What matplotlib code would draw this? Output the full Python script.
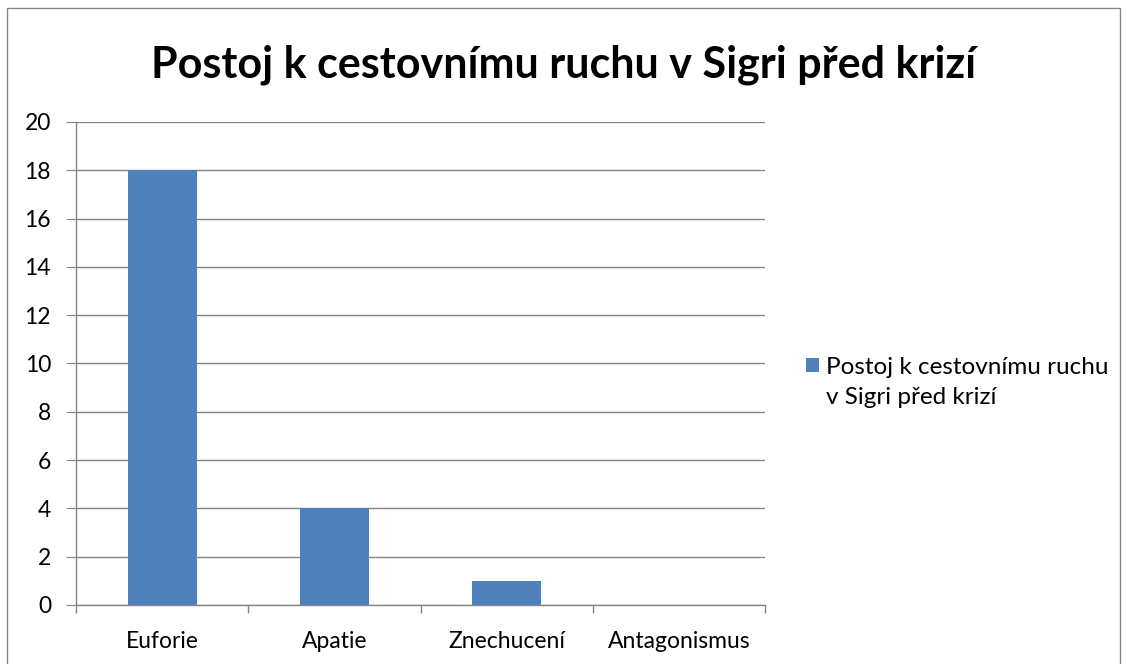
import matplotlib.pyplot as plt
from matplotlib.patches import Rectangle

# data
categories = ['Euforie', 'Apatie', 'Znechucení', 'Antagonismus']
values = [18, 4, 1, 0]
series_name = 'Postoj k cestovnímu ruchu v Sigri před krizí'
legend_line1 = 'Postoj k cestovnímu ruchu'
legend_line2 = 'v Sigri před krizí'

plt.rcParams['font.family'] = ['Lato', 'DejaVu Sans']

fig = plt.figure(figsize=(11.28, 6.64), dpi=100)
ax = fig.add_axes([0.0674, 0.0889, 0.6108, 0.7274])

bars = ax.bar(range(len(categories)), values, width=0.4, color='#4F81BD', zorder=3)

ax.set_xlim(-0.5, len(categories) - 0.5)
ax.set_ylim(0, 20)
ax.set_yticks(range(0, 21, 2))
ax.set_xticks(range(len(categories)))
ax.set_xticklabels(categories)
ax.set_xticks([i - 0.5 for i in range(len(categories) + 1)], minor=True)
ax.tick_params(axis='x', which='major', length=0, pad=19, labelsize=16.5)
ax.tick_params(axis='x', which='minor', length=6, color='#868686', width=1)
ax.tick_params(axis='y', length=7, color='#868686', labelsize=16.5, pad=11)

ax.grid(axis='y', color='#868686', linewidth=1, zorder=0)
for s in ['top', 'right']:
    ax.spines[s].set_visible(False)
for s in ['left', 'bottom']:
    ax.spines[s].set_color('#868686')
    ax.spines[s].set_linewidth(1)

fig.text(0.5, 0.902, series_name, ha='center', va='center', fontsize=31, fontweight='bold')

# legend: first line with the marker, second line wrapped below it
leg = fig.legend(handles=[bars], labels=[legend_line1], loc='center left', bbox_to_anchor=(0.706, 0.447),
                 frameon=False, fontsize=17.5, handlelength=0.55, handleheight=0.55, handletextpad=0.25,
                 borderaxespad=0)
fig.canvas.draw()
bb = leg.get_texts()[0].get_window_extent().transformed(fig.transFigure.inverted())
fig.text(bb.x0, bb.y0 - 30 / 664, legend_line2, fontsize=17.5, ha='left', va='bottom')

fig.patches.append(Rectangle((0.006, -0.01), 0.987, 0.998, transform=fig.transFigure,
                             fill=False, edgecolor='#868686', linewidth=1))

plt.savefig('out.png', dpi=100)
